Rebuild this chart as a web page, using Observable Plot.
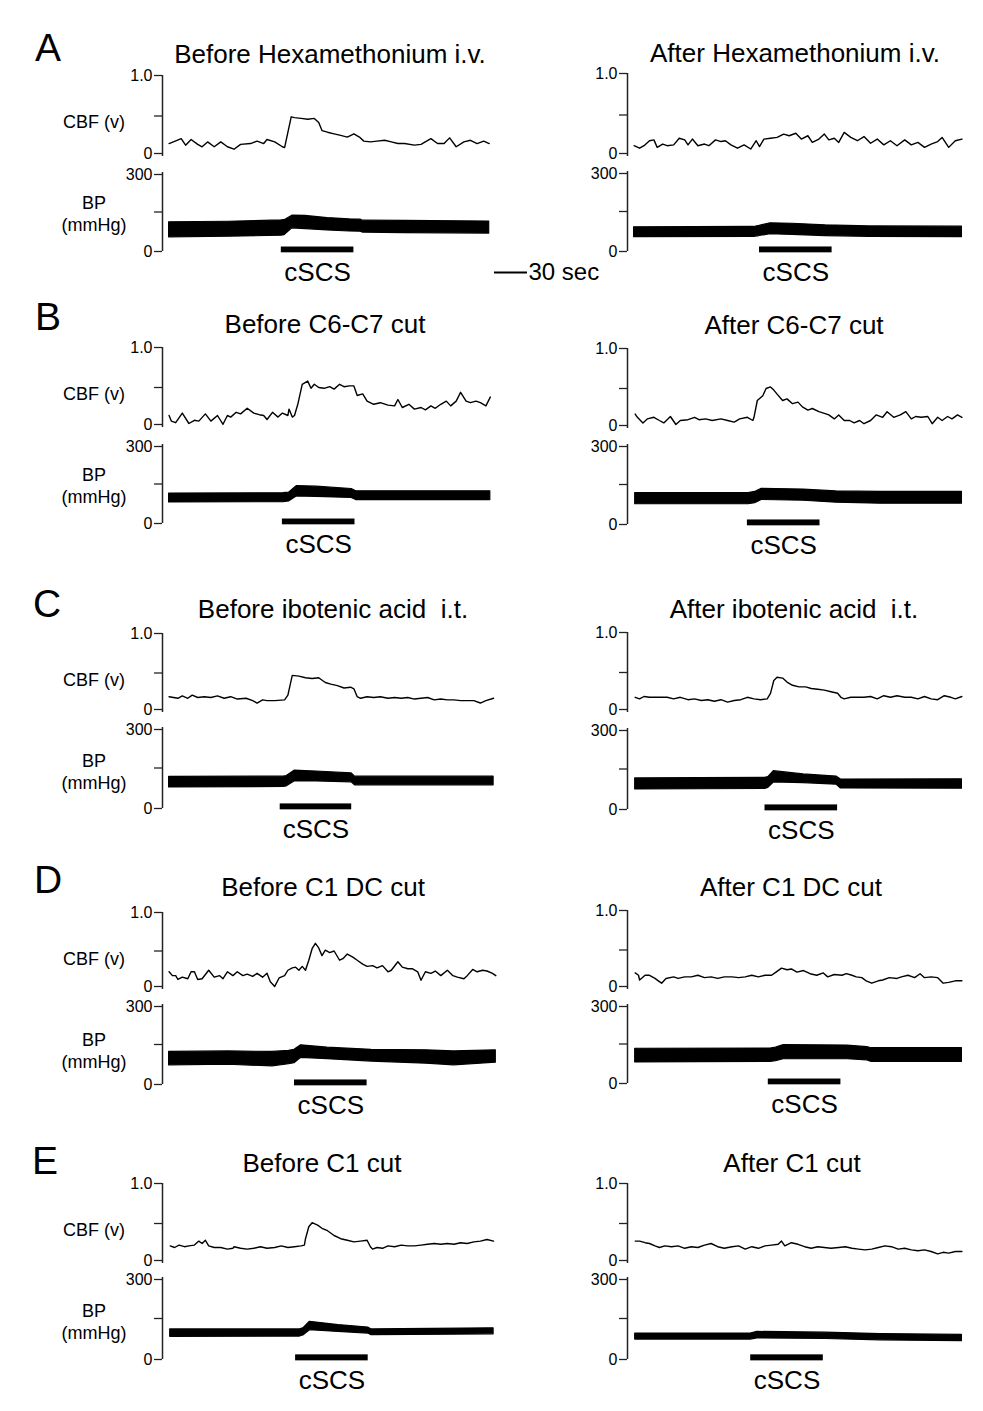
<!DOCTYPE html>
<html><head><meta charset="utf-8">
<script src="https://cdn.jsdelivr.net/npm/d3@7"></script>
<script src="https://cdn.jsdelivr.net/npm/@observablehq/plot@0.6"></script>
<style>
body{margin:0;background:#fff;}
#fig{position:relative;width:983px;height:1411px;background:#fff;font-family:"Liberation Sans",Arial,sans-serif;color:#000;overflow:hidden}
.lbl{position:absolute;transform:translate(-50%,-50%);white-space:pre;line-height:1}
.plot{position:absolute}
</style></head><body><div id="fig"></div>
<script>
// ---------- text ----------
const letters = ["A","B","C","D","E"];
const titlesBefore = ["Before Hexamethonium i.v.","Before C6-C7 cut","Before ibotenic acid  i.t.","Before C1 DC cut","Before C1 cut"];
const titlesAfter  = ["After Hexamethonium i.v.","After C6-C7 cut","After ibotenic acid  i.t.","After C1 DC cut","After C1 cut"];
const cbfTicksTop = [0.5, 1];
const cbfTickBottom = [0];
const bpTicksLow = [0, 150];
const bpTickTop = [300];
const scaleBarSec = 30;

// ---------- CBF traces: [time (s), CBF (v)] ----------
const cbfA_before = [[6,.16],[17,.22],[21,.14],[26,.21],[32,.15],[36,.12],[41,.18],[47,.12],[53,.18],[59,.12],[65,.09],[71,.15],[80,.16],[86,.19],[92,.16],[95,.21],[102,.18],[109,.12],[111,.11],[117,.49],[120,.48],[126,.47],[132,.46],[138,.47],[142,.42],[145,.32],[150,.30],[156,.28],[162,.26],[168,.24],[174,.28],[179,.24],[183,.19],[189,.18],[195,.19],[202,.20],[208,.18],[214,.16],[220,.16],[229,.14],[235,.15],[244,.22],[250,.16],[256,.16],[261,.23],[267,.12],[274,.18],[280,.20],[286,.16],[292,.19],[297,.16]];
const cbfA_after = [[6,.13],[11,.10],[15,.13],[20,.19],[24,.20],[27,.11],[32,.15],[36,.13],[42,.14],[47,.22],[52,.20],[55,.14],[59,.21],[64,.13],[70,.15],[74,.13],[80,.20],[85,.18],[89,.19],[94,.14],[100,.10],[106,.14],[112,.09],[117,.19],[120,.12],[124,.21],[130,.22],[136,.23],[142,.27],[147,.25],[153,.28],[158,.21],[164,.25],[168,.17],[174,.21],[179,.27],[183,.20],[188,.22],[192,.17],[197,.29],[203,.23],[209,.19],[215,.24],[221,.16],[227,.21],[233,.14],[239,.19],[245,.13],[252,.20],[258,.14],[264,.17],[270,.11],[276,.15],[282,.18],[286,.23],[292,.11],[298,.19],[304,.21]];
const cbfB_before = [[6,.15],[8,.08],[12,.06],[18,.18],[24,.05],[29,.09],[33,.08],[39,.17],[44,.08],[50,.15],[55,.04],[59,.15],[62,.13],[67,.19],[71,.17],[77,.24],[83,.18],[88,.16],[92,.15],[95,.10],[100,.19],[105,.13],[109,.18],[114,.15],[115,.23],[118,.13],[120,.15],[123,.29],[127,.54],[132,.58],[135,.49],[138,.54],[142,.50],[147,.49],[152,.51],[156,.48],[161,.54],[165,.51],[170,.52],[174,.52],[177,.40],[182,.42],[186,.33],[192,.29],[198,.31],[205,.28],[211,.27],[214,.35],[218,.25],[224,.29],[229,.23],[235,.25],[239,.22],[244,.27],[248,.24],[253,.29],[258,.33],[262,.27],[267,.33],[271,.44],[276,.33],[280,.31],[285,.33],[289,.31],[294,.27],[298,.38]];
const cbfB_after = [[7,.18],[9,.14],[14,.07],[18,.12],[24,.14],[29,.10],[33,.07],[39,.15],[44,.05],[48,.10],[55,.11],[61,.14],[65,.11],[71,.12],[77,.10],[85,.12],[91,.10],[97,.08],[102,.12],[109,.14],[114,.10],[115,.14],[118,.35],[123,.41],[126,.50],[130,.52],[133,.48],[136,.43],[141,.35],[145,.37],[150,.31],[155,.33],[159,.27],[164,.23],[168,.25],[174,.21],[179,.19],[183,.17],[188,.12],[192,.17],[197,.10],[202,.10],[206,.07],[211,.10],[215,.06],[221,.10],[226,.17],[232,.14],[236,.21],[242,.14],[248,.17],[253,.21],[258,.12],[262,.15],[267,.14],[273,.15],[277,.06],[282,.14],[286,.10],[291,.15],[295,.12],[300,.17],[304,.14]];
const cbfC_before = [[6,.20],[14,.18],[18,.21],[23,.18],[27,.22],[32,.19],[38,.20],[44,.19],[50,.21],[56,.18],[62,.20],[68,.17],[76,.18],[82,.15],[86,.12],[91,.16],[95,.15],[102,.15],[111,.16],[114,.22],[117,.41],[118,.47],[124,.46],[130,.44],[136,.43],[142,.44],[148,.38],[153,.36],[159,.34],[165,.31],[171,.32],[174,.30],[177,.20],[180,.18],[186,.20],[192,.19],[198,.20],[205,.18],[211,.19],[217,.18],[223,.19],[229,.17],[235,.18],[241,.19],[247,.16],[253,.17],[259,.16],[265,.16],[271,.15],[277,.15],[283,.15],[289,.12],[294,.15],[301,.18]];
const cbfC_after = [[7,.19],[11,.17],[15,.20],[20,.19],[24,.19],[30,.19],[36,.19],[42,.17],[48,.19],[55,.16],[61,.17],[67,.15],[73,.16],[79,.14],[85,.16],[91,.13],[97,.15],[103,.16],[109,.19],[115,.17],[121,.16],[127,.17],[130,.24],[133,.40],[136,.44],[141,.43],[145,.38],[150,.34],[156,.32],[162,.32],[167,.30],[173,.29],[179,.28],[185,.26],[191,.24],[194,.19],[197,.17],[203,.19],[209,.19],[215,.19],[221,.20],[227,.17],[233,.21],[239,.19],[245,.21],[252,.19],[258,.19],[264,.17],[270,.20],[276,.17],[282,.16],[288,.21],[294,.19],[298,.17],[304,.20]];
const cbfD_before = [[6,.23],[9,.18],[12,.18],[14,.13],[18,.16],[23,.14],[26,.23],[29,.23],[32,.13],[36,.14],[42,.25],[47,.16],[52,.18],[55,.14],[59,.23],[64,.18],[68,.23],[73,.18],[77,.20],[82,.17],[86,.21],[91,.16],[95,.21],[98,.10],[102,.04],[106,.15],[111,.18],[114,.25],[118,.28],[121,.29],[124,.25],[127,.30],[130,.25],[133,.38],[136,.53],[139,.60],[142,.54],[145,.44],[148,.51],[152,.48],[156,.50],[161,.38],[164,.40],[168,.46],[173,.42],[177,.38],[182,.33],[186,.30],[191,.31],[195,.28],[200,.31],[205,.23],[208,.25],[214,.36],[218,.29],[223,.27],[227,.27],[232,.23],[235,.12],[239,.23],[244,.21],[248,.24],[253,.18],[259,.25],[264,.18],[268,.16],[274,.14],[277,.18],[282,.26],[286,.23],[291,.25],[295,.24],[300,.21],[303,.18]];
const cbfD_after = [[7,.21],[10,.18],[11,.12],[16,.18],[20,.18],[25,.14],[28,.11],[31,.08],[35,.14],[42,.16],[46,.14],[52,.16],[58,.16],[64,.18],[70,.15],[76,.16],[82,.14],[88,.16],[95,.16],[101,.15],[107,.16],[113,.18],[119,.16],[125,.18],[131,.18],[135,.22],[140,.27],[145,.25],[149,.26],[154,.22],[160,.24],[166,.20],[172,.18],[178,.21],[182,.16],[188,.19],[195,.18],[199,.20],[204,.18],[208,.16],[213,.15],[217,.11],[222,.08],[228,.11],[232,.12],[238,.15],[245,.14],[249,.16],[255,.18],[261,.15],[266,.20],[270,.15],[276,.16],[282,.15],[287,.08],[292,.09],[298,.11],[304,.11]];
const cbfE_before = [[7,.22],[11,.20],[15,.23],[20,.21],[24,.22],[29,.23],[33,.28],[36,.25],[39,.29],[42,.22],[47,.20],[53,.20],[59,.18],[64,.19],[65,.21],[71,.19],[77,.18],[83,.19],[89,.21],[95,.19],[102,.20],[108,.22],[114,.20],[120,.21],[126,.22],[129,.23],[130,.31],[133,.46],[136,.51],[141,.48],[145,.44],[150,.41],[156,.35],[162,.31],[168,.29],[174,.27],[180,.28],[186,.29],[189,.21],[191,.18],[195,.20],[200,.19],[205,.22],[211,.21],[217,.23],[223,.22],[229,.22],[235,.23],[241,.24],[247,.25],[253,.24],[259,.25],[265,.24],[271,.26],[277,.25],[283,.27],[289,.28],[295,.30],[301,.28]];
const cbfE_after = [[7,.28],[11,.28],[16,.26],[20,.25],[25,.22],[29,.20],[34,.22],[40,.21],[46,.22],[52,.19],[58,.21],[64,.20],[70,.23],[76,.25],[82,.21],[88,.19],[95,.21],[101,.22],[107,.18],[113,.21],[119,.19],[125,.22],[131,.23],[137,.24],[140,.28],[143,.22],[149,.26],[155,.24],[161,.21],[167,.19],[173,.21],[179,.20],[185,.19],[192,.20],[198,.21],[204,.19],[210,.18],[216,.17],[222,.18],[228,.20],[234,.22],[240,.21],[246,.18],[252,.19],[258,.17],[264,.16],[270,.17],[276,.15],[282,.12],[287,.14],[292,.13],[298,.15],[304,.15]];

// ---------- BP envelopes: [time (s), diastolic, systolic] (mmHg) ----------
const bpA_before = [[6,54,111],[60,56,113],[108,60,118],[111,62,119],[118,88,136],[130,85,135],[150,80,127],[170,76,122],[180,75,121],[182,72,117],[220,70,116],[297,68,114]];
const bpA_after  = [[6,54,91],[115,55,92],[120,58,96],[130,65,106],[150,62,104],[180,58,98],[220,55,94],[304,54,93]];
const bpB_before = [[6,80,114],[110,81,115],[115,84,117],[122,103,142],[140,101,140],[172,97,131],[176,89,122],[298,89,122]];
const bpB_after  = [[7,76,118],[110,76,118],[116,80,122],[122,92,134],[160,89,131],[190,82,124],[230,78,122],[304,78,122]];
const bpC_before = [[6,78,117],[110,80,118],[113,82,120],[120,100,140],[140,100,137],[172,97,130],[175,86,118],[301,86,118]];
const bpC_after  = [[7,74,115],[125,76,117],[128,80,120],[133,100,142],[160,98,130],[190,92,122],[194,78,111],[304,77,112]];
const bpD_before = [[6,72,122],[60,74,124],[100,68,122],[115,76,126],[120,80,130],[126,100,147],[150,95,138],[190,86,130],[240,78,128],[265,72,124],[303,82,128]];
const bpD_after  = [[7,80,132],[130,82,133],[135,85,136],[142,92,146],[200,92,144],[218,88,138],[222,82,134],[304,82,134]];
const bpE_before = [[7,83,110],[125,84,110],[128,88,114],[134,107,138],[160,101,126],[187,95,117],[190,89,110],[301,92,114]];
const bpE_after  = [[7,73,95],[112,73,95],[118,77,101],[180,75,98],[230,70,93],[304,67,90]];

// ---------- stimulation periods (s) ----------
const cscsBefore = [[108,174],[109,175],[107,172],[120,186],[121,187]];
const cscsAfter  = [[120,186],[109,175],[125,191],[128,194],[112,178]];

const cbfBefore = [cbfA_before,cbfB_before,cbfC_before,cbfD_before,cbfE_before];
const cbfAfter  = [cbfA_after,cbfB_after,cbfC_after,cbfD_after,cbfE_after];
const bpBefore  = [bpA_before,bpB_before,bpC_before,bpD_before,bpE_before];
const bpAfter   = [bpA_after,bpB_after,bpC_after,bpD_after,bpE_after];

// ---------- layout (page pixels) ----------
const axisX = [162, 627];
const rows = [
  {letter:[48,47],  L:{cbf:[75,156],  bp:[172,251],  title:[330,54]},  R:{cbf:[73,156],  bp:[171,251],  title:[795,53]}},
  {letter:[48,316], L:{cbf:[347,427], bp:[444,523],  title:[325,324]}, R:{cbf:[348,428], bp:[444,524],  title:[794,325]}},
  {letter:[47,603], L:{cbf:[633,712], bp:[727,808],  title:[333,609]}, R:{cbf:[632,712], bp:[728,809],  title:[794,609]}},
  {letter:[48,879], L:{cbf:[912,989], bp:[1004,1084],title:[323,887]}, R:{cbf:[910,989], bp:[1004,1083],title:[791,887]}},
  {letter:[45,1160],L:{cbf:[1183,1263],bp:[1277,1359],title:[322,1163]},R:{cbf:[1183,1263],bp:[1277,1359],title:[792,1163]}}
];
const pxPerSec = 1.1;
const mL = 44, mR = 6, innerW = 341;
const FONT = "'Liberation Sans', Arial, sans-serif";
const TICKFONT = 16;
const fig = document.getElementById("fig");

function label(text, x, y, size) {
  const d = document.createElement("div");
  d.className = "lbl";
  d.textContent = text;
  d.style.left = x + "px"; d.style.top = y + "px"; d.style.fontSize = size + "px";
  fig.appendChild(d);
}
function place(svg, left, top) {
  svg.classList.add("plot");
  svg.style.left = left + "px"; svg.style.top = top + "px";
  fig.appendChild(svg);
}
const xDomain = [0, innerW / pxPerSec];
const axisOpts = {tickSize: 8, tickPadding: 2, fontSize: TICKFONT, strokeWidth: 1.3, stroke: "#222", fill: "#000", label: null};
const svgStyle = {fontFamily: FONT, fontSize: TICKFONT + "px", background: "transparent", overflow: "visible", color: "#000"};

function cbfPlot(data, top, bot) {
  const mT = 10, mB = 4;
  return Plot.plot({
    width: mL + innerW + mR, height: mT + (bot - top) + mB,
    marginLeft: mL, marginRight: mR, marginTop: mT, marginBottom: mB,
    style: svgStyle,
    x: {domain: xDomain, axis: null},
    y: {domain: [0, 1]},
    marks: [
      Plot.axisY({...axisOpts, ticks: cbfTicksTop, tickFormat: d => d === 1 ? "1.0" : ""}),
      Plot.axisY({...axisOpts, ticks: cbfTickBottom, tickFormat: d => String(d), dy: -3}),
      Plot.ruleX([0], {y1: () => 0, y2: () => 1, stroke: "#222", strokeWidth: 1.5}),
      Plot.line(data, {x: d => d[0], y: d => d[1], stroke: "#000", strokeWidth: 1.4})
    ]
  });
}
function bpPlot(data, stim, top, bot) {
  const mT = 10, mB = 42;
  return Plot.plot({
    width: mL + innerW + mR, height: mT + (bot - top) + mB,
    marginLeft: mL, marginRight: mR, marginTop: mT, marginBottom: mB,
    style: svgStyle,
    x: {domain: xDomain, axis: null},
    y: {domain: [0, 300]},
    marks: [
      Plot.axisY({...axisOpts, ticks: bpTicksLow, tickFormat: d => d === 0 ? "0" : ""}),
      Plot.axisY({...axisOpts, ticks: bpTickTop, tickFormat: d => String(d), dy: 2}),
      Plot.ruleX([0], {y1: () => 0, y2: () => 300, stroke: "#222", strokeWidth: 1.5}),
      Plot.areaY(data, {x: d => d[0], y1: d => d[1], y2: d => d[2], fill: "#000", stroke: "#000", strokeWidth: 1.2}),
      Plot.rect([stim], {x1: d => d[0], x2: d => d[1], y1: () => -5, y2: () => 17, fill: "#000"}),
      Plot.text([stim], {x: d => (d[0] + d[1]) / 2, y: () => 0, dy: 21, text: () => "cSCS", fontSize: 26, fill: "#000"})
    ]
  });
}

rows.forEach((r, i) => {
  label(letters[i], r.letter[0], r.letter[1], 39);
  label(titlesBefore[i], r.L.title[0], r.L.title[1], 26);
  label(titlesAfter[i], r.R.title[0], r.R.title[1], 26);
  label("CBF (v)", 94, r.L.cbf[0] + 47, 18);
  label("BP", 94, r.L.cbf[0] + 128, 18);
  label("(mmHg)", 94, r.L.cbf[0] + 150, 18);
  [[r.L, cbfBefore[i], bpBefore[i], cscsBefore[i], axisX[0]],
   [r.R, cbfAfter[i], bpAfter[i], cscsAfter[i], axisX[1]]].forEach(([p, cbf, bp, stim, ax]) => {
    place(cbfPlot(cbf, p.cbf[0], p.cbf[1]), ax - mL, p.cbf[0] - 10);
    place(bpPlot(bp, stim, p.bp[0], p.bp[1]), ax - mL, p.bp[0] - 10);
  });
});

// 30 s scale bar
const sb = Plot.plot({
  width: 120, height: 30, marginLeft: 2, marginRight: 120 - 2 - scaleBarSec * pxPerSec, marginTop: 0, marginBottom: 0,
  style: {fontFamily: FONT, background: "transparent", overflow: "visible"},
  x: {domain: [0, scaleBarSec], axis: null},
  y: {domain: [0, 1], axis: null},
  marks: [
    Plot.ruleY([0.5], {x1: () => 0, x2: () => scaleBarSec, stroke: "#000", strokeWidth: 2}),
    Plot.text([scaleBarSec], {x: d => d, y: () => 0.5, text: d => d + " sec", textAnchor: "start", dx: 1, fontSize: 24, fill: "#000"})
  ]
});
place(sb, 492, 257);
</script></body></html>
